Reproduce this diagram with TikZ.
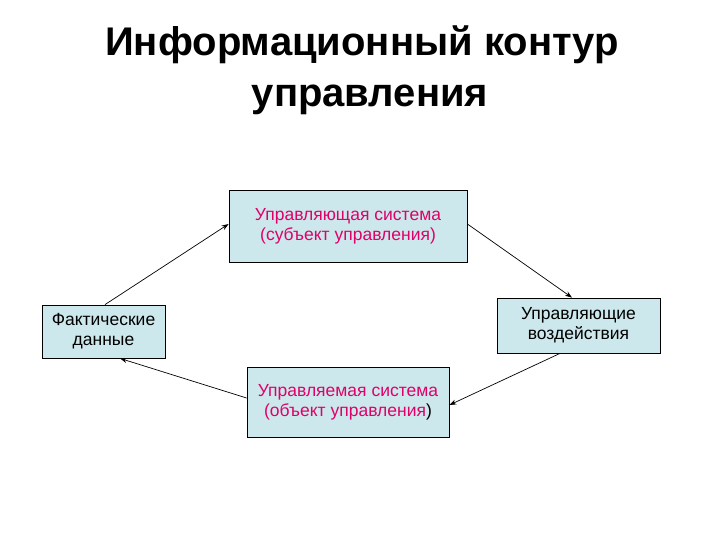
\documentclass[tikz,border=0pt]{standalone}
\usepackage{fontspec}
\setmainfont{Liberation Sans}
\usetikzlibrary{arrows.meta}
\definecolor{boxfill}{HTML}{CCE8EC}
\definecolor{pinktext}{HTML}{E0006A}
\begin{document}
\begin{tikzpicture}[x=1pt,y=-1pt,
  box/.style={draw=black,fill=boxfill,line width=0.8pt,align=center,font=\fontsize{17.5}{20}\selectfont,inner sep=0pt},
  conn/.style={line width=0.7pt,-{Stealth[length=7pt,width=5pt]}}]
\useasboundingbox (0,0) rectangle (720,540);
\node[font=\bfseries\fontsize{40}{51}\selectfont,align=center] (title) at (362,70) {Информационный контур\\\hspace*{16pt}управления};
\node[box,minimum width=238pt,minimum height=72pt,text=pinktext] (top) at (348,226) {Управляющая система\\(субъект управления)};
\node[box,minimum width=123pt,minimum height=53pt] (left) at (103.5,331.5) {Фактические\\данные};
\node[box,minimum width=163pt,minimum height=55pt] (right) at (578.5,325.5) {Управляющие\\воздействия};
\node[box,minimum width=202pt,minimum height=70pt] (bot) at (348,402) {\textcolor{pinktext}{Управляемая система}\\\textcolor{pinktext}{(объект управления})};
\draw[conn] (left.north -| 105,0) -- (top.west |- 0,224);
\draw[conn] (top.east |- 0,224) -- (right.north -| 572,0);
\draw[conn] (right.south -| 560,0) -- (bot.east |- 0,405);
\draw[conn] (bot.west |- 0,398) -- (left.south -| 120,0);
\end{tikzpicture}
\end{document}
